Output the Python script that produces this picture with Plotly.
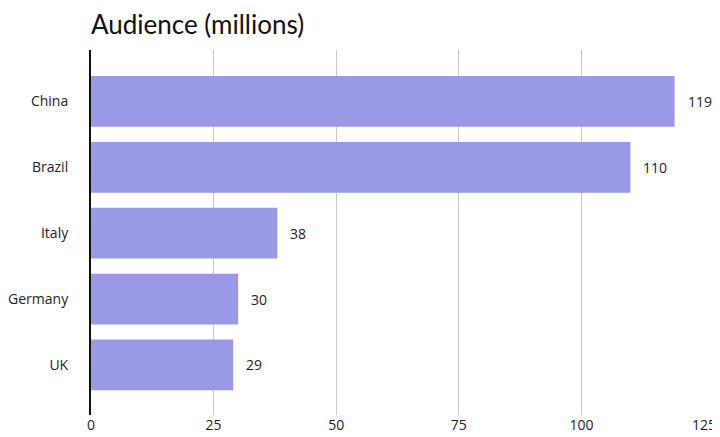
import plotly.graph_objects as go

countries = ["China", "Brazil", "Italy", "Germany", "UK"]
audience = [119, 110, 38, 30, 29]
x_ticks = [0, 25, 50, 75, 100, 125]

font_family = "'Open Sans', sans-serif"

fig = go.Figure()
fig.add_trace(go.Bar(
    y=countries, x=audience, orientation="h",
    marker=dict(color="#9999e6", line=dict(width=0)),
    width=0.77, hoverinfo="x+y",
))
for c, v in zip(countries, audience):
    fig.add_annotation(x=v, y=c, text=str(v), showarrow=False,
                       xanchor="left", xshift=11,
                       font=dict(size=14, color="#222", family=font_family))

W, H = 712, 429
fig.update_layout(
    width=W, height=H,
    margin=dict(l=83, r=16, t=42, b=22, autoexpand=False),
    plot_bgcolor="white", paper_bgcolor="white",
    font=dict(family=font_family, size=14, color="#222"),
    title=dict(text="Audience (millions)", x=0, xref="paper", xanchor="left",
               y=1 - 17 / H, yref="container", yanchor="middle",
               font=dict(size=26, color="#111", family="Lato, sans-serif")),
    showlegend=False,
)
fig.update_xaxes(range=[0, 125], tickvals=x_ticks, showgrid=True,
                 gridcolor="#c8c8c8", gridwidth=1, zeroline=False,
                 showline=False, ticks="", tickfont=dict(size=14),
                 automargin=False)
fig.update_yaxes(categoryorder="array", categoryarray=countries,
                 autorange=False, range=[4.76, -0.78],
                 showline=True, linecolor="#111", linewidth=2,
                 showgrid=False, zeroline=False, ticks="",
                 ticklabelstandoff=18, tickfont=dict(size=14),
                 automargin=False)

fig.write_html("out.html")
